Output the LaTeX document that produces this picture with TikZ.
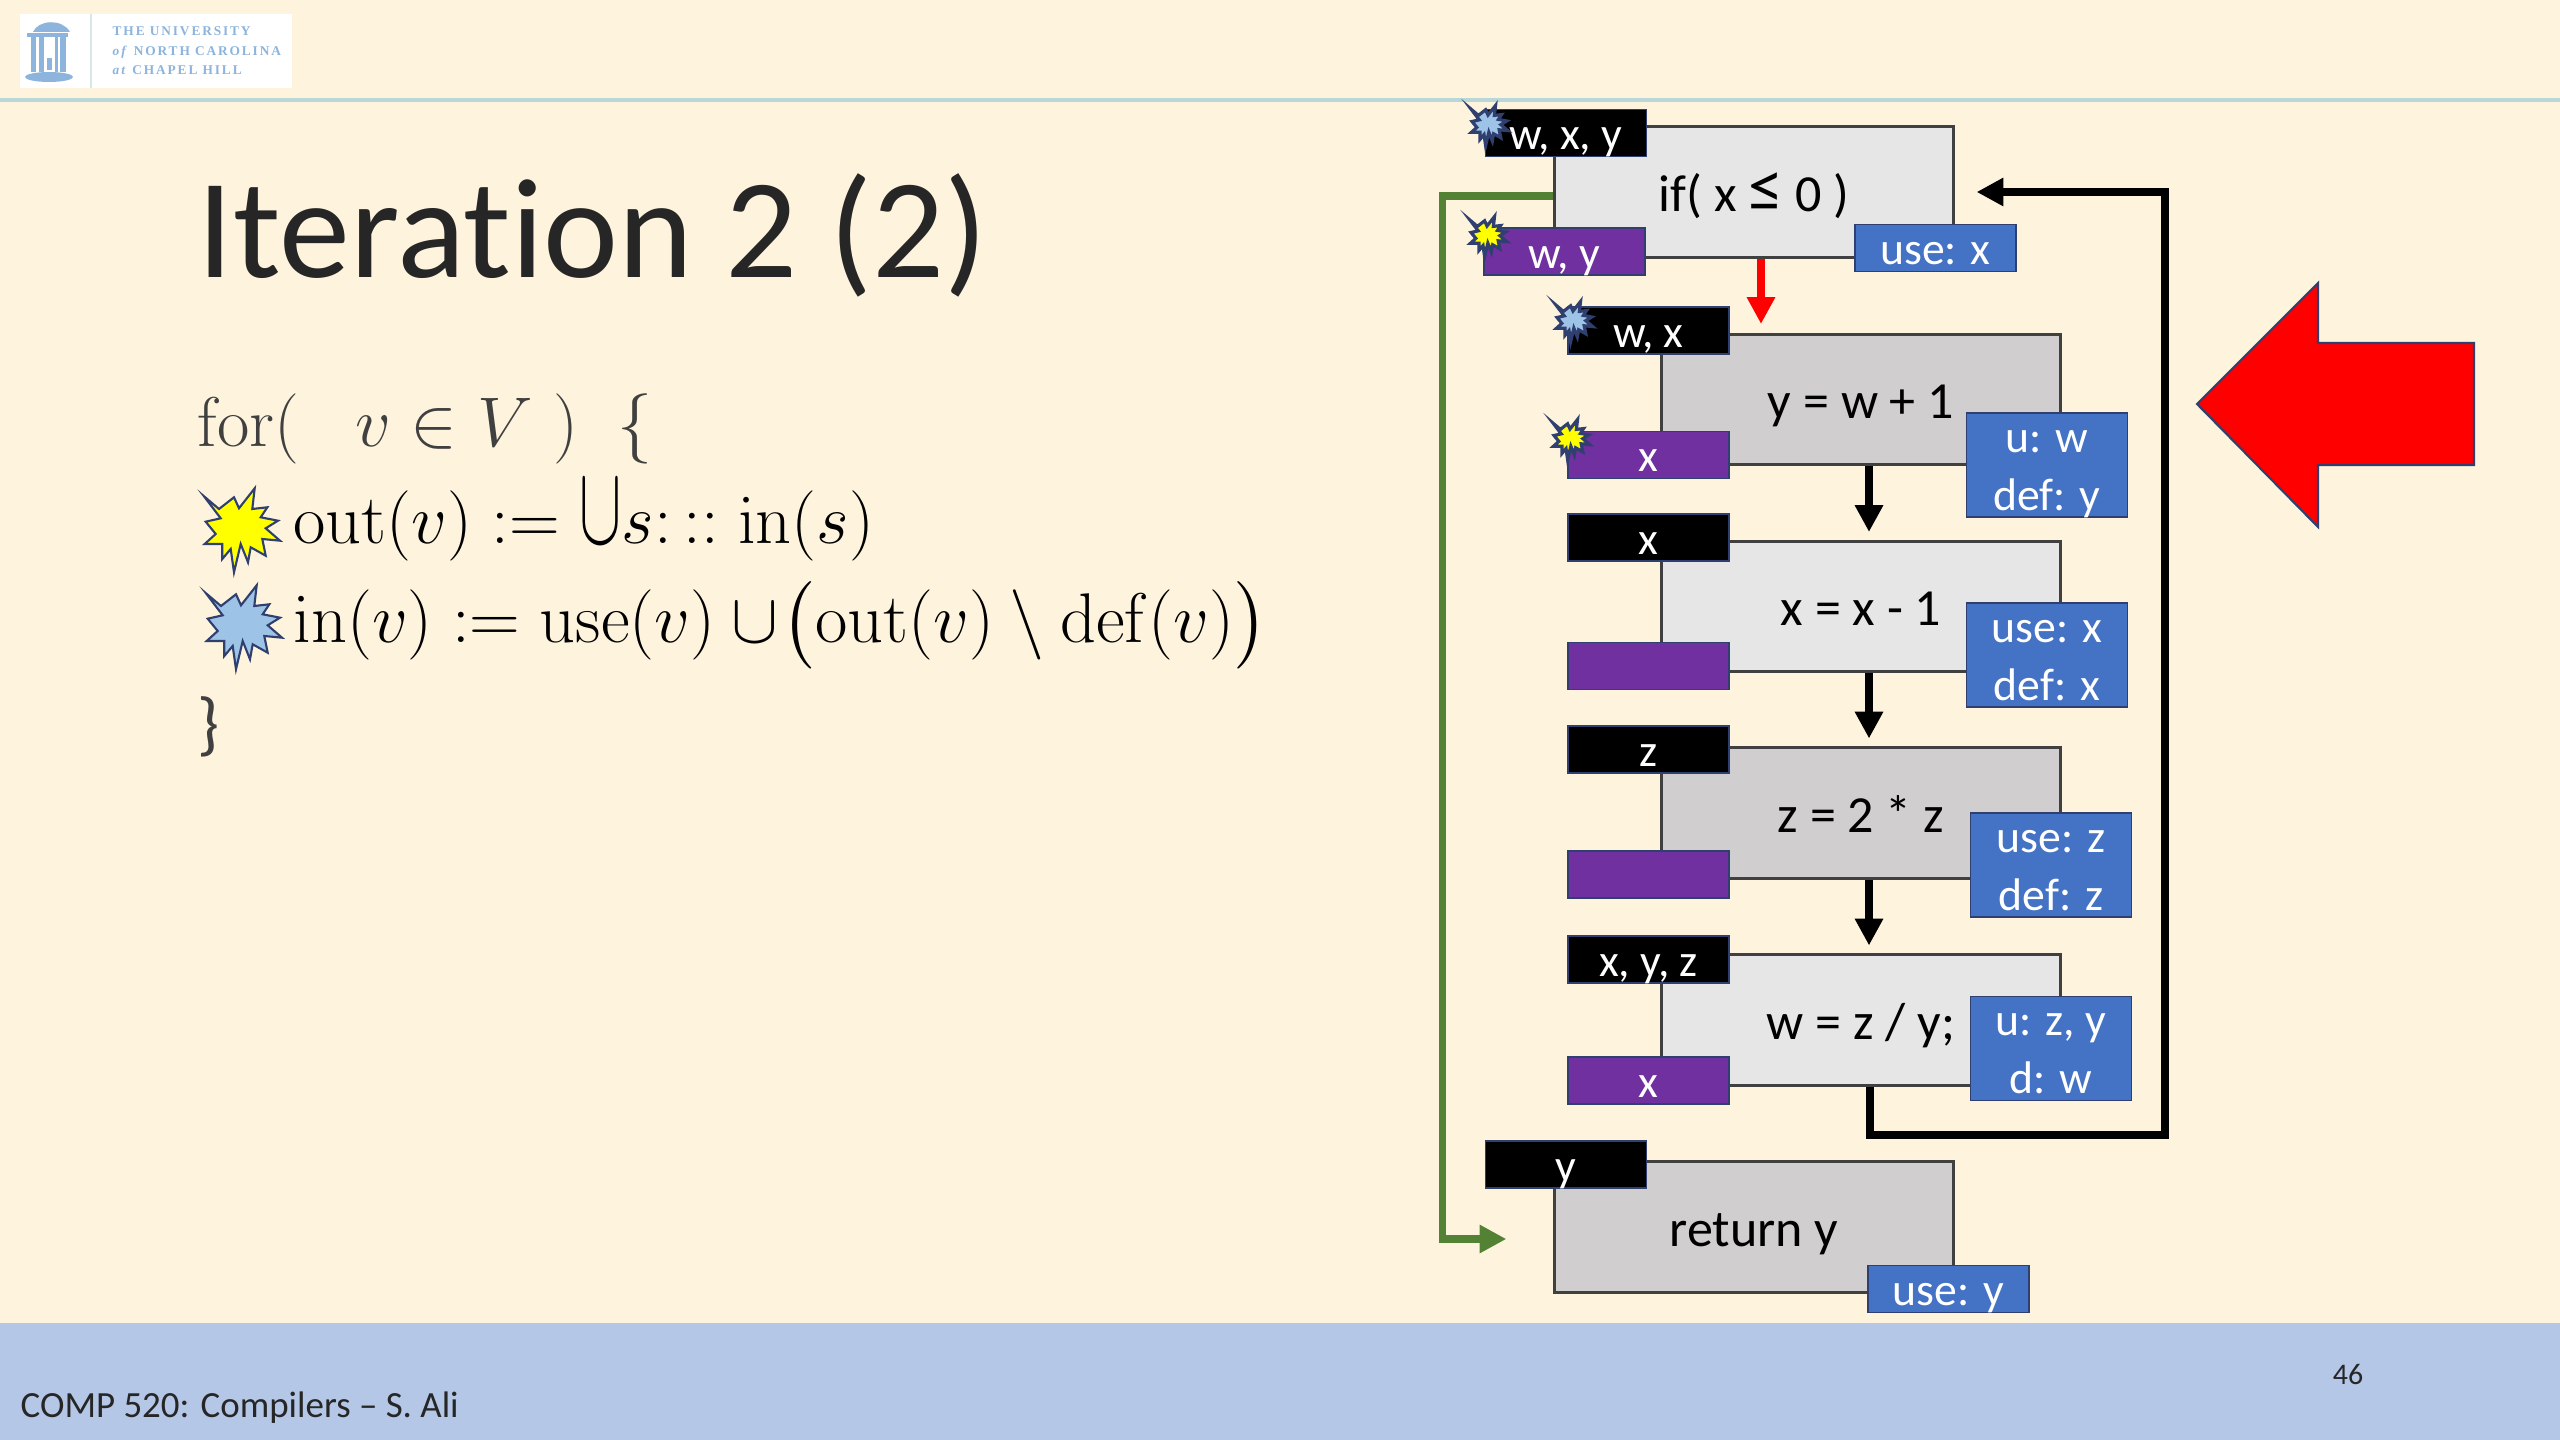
\documentclass[tikz,border=0pt]{standalone}
\usepackage{fix-cm}
\usepackage{exscale}
\usepackage[no-math]{fontspec}
\usetikzlibrary{arrows.meta}
\setmainfont[Ligatures=NoCommon]{Carlito}
\newfontfamily\logofont[LetterSpace=14]{Liberation Serif}
\definecolor{slidebg}{HTML}{FEF3DC}
\definecolor{footbg}{HTML}{B4C7E7}
\definecolor{rulecol}{HTML}{B9D6D8}
\definecolor{blockedge}{HTML}{404040}
\definecolor{blocklight}{HTML}{E7E6E6}
\definecolor{blockdark}{HTML}{D0CECE}
\definecolor{outpurple}{HTML}{7030A0}
\definecolor{useblue}{HTML}{4472C4}
\definecolor{edgenavy}{HTML}{2F3F6F}
\definecolor{loopgreen}{HTML}{548235}
\definecolor{stargold}{HTML}{FFFF00}
\definecolor{starblue}{HTML}{9DC3E6}
\definecolor{logoblue}{HTML}{8DB4DC}
\tikzset{
  block/.style={draw=blockedge, line width=0.85pt, inner sep=0pt,
    minimum width=3.98cm, minimum height=1.3cm,
    font=\fontsize{14.8pt}{17pt}\selectfont, text height=11pt, text depth=0pt},
  tag/.style={draw=edgenavy, line width=0.4pt, inner sep=0pt, text=white,
    minimum width=1.61cm, minimum height=0.47cm,
    font=\fontsize{13pt}{16pt}\selectfont, text height=9.4pt, text depth=0pt},
  intag/.style={tag, fill=black},
  outtag/.style={tag, fill=outpurple},
  usetag/.style={tag, fill=useblue},
  usedef/.style={draw=edgenavy, line width=0.4pt, fill=useblue, inner sep=0pt, text=white,
    minimum width=1.61cm, minimum height=1.04cm, align=center,
    font=\fontsize{13pt}{16.4pt}\selectfont, text height=25.6pt, text depth=0pt},
  mathline/.style={anchor=base west, inner sep=0pt, font=\fontsize{20pt}{24pt}\selectfont},
  flow/.style={line width=2.2pt, -{Triangle[width=7.6pt, length=7.6pt]}},
  pics/burst/.style={code={
    \draw[draw=edgenavy, fill=#1, line join=miter]
      (-35,-32.7) -- (-20,-20) -- (-5,-31.7) -- (0,-20.7) -- (15.7,-40.7) -- (13.3,-20)
      -- (28.3,-21.7) -- (21.7,-11.7) -- (39,-8.3) -- (26.7,-0.7) -- (41,11.7) -- (23.3,10)
      -- (26.7,26.7) -- (11.7,18.3) -- (9,33.3) -- (1.7,15) -- (-5,43.3) -- (-8.3,20)
      -- (-16.7,30) -- (-16.7,15) -- (-34.3,15) -- (-23.3,5) -- (-33.3,-7.3) -- (-18.3,-10.7)
      -- cycle;
  }},
}
\begin{document}
\begin{tikzpicture}[x=0.01cm, y=-0.01cm]
  \useasboundingbox (0,0) rectangle (2560,1440);
  \fill[slidebg] (0,0) rectangle (2560,1440);
  \fill[footbg] (0,1323) rectangle (2560,1440);
  \draw[rulecol, line width=1.2pt] (0,100) -- (2560,100);

  % logo
  \fill[white] (20,14) rectangle (292,88);
  \draw[rulecol!60, line width=0.4pt] (91,14) -- (91,88);
  \fill[logoblue] (33,32) .. controls (38,20) and (62,18) .. (70,32) -- cycle;
  \fill[logoblue] (27,33) rectangle (68,37);
  \fill[logoblue] (31,37) rectangle (36,72);
  \fill[logoblue] (39,37) rectangle (44,72);
  \fill[logoblue] (55,37) rectangle (58,72);
  \fill[logoblue] (60,37) rectangle (66,72);
  \fill[logoblue] (47,58) rectangle (52,70);
  \fill[logoblue] (49,77) ellipse (24 and 5);
  \node[anchor=base west, inner sep=0pt, text=logoblue, font=\logofont\bfseries\fontsize{3.8pt}{4pt}\selectfont] (logoa) at (112,36) {THE UNIVERSITY};
  \node[anchor=base west, inner sep=0pt, text=logoblue, font=\logofont\bfseries\fontsize{3.8pt}{4pt}\selectfont] (logob) at (112,56) {\textit{of} NORTH CAROLINA};
  \node[anchor=base west, inner sep=0pt, text=logoblue, font=\logofont\bfseries\fontsize{3.8pt}{4pt}\selectfont] (logoc) at (112,75) {\textit{at} CHAPEL HILL};

  % left column
  \node[anchor=base west, inner sep=0pt, font=\fontsize{40.4pt}{44pt}\selectfont, text=black!85] (title) at (197,278) {Iteration 2 (2)};
  \node[mathline, text=black!75] (forline) at (197,447) {$\mathrm{for}(\hspace{16pt}v \in V\hspace{6pt})\hspace{11pt}\{$};
  \pic[line width=0.6pt] at (239,529) {burst=stargold};
  \node[mathline] (outline) at (293,544) {$\mathrm{out}(v) \mathrel{:=} \mathbin{\scalebox{0.9}[1.6]{$\cup$}} s\colon :: \mathrm{in}(s)$};
  \pic[line width=0.6pt] at (241,626) {burst=starblue};
  \node[mathline] (inline) at (293,643) {$\mathrm{in}(v) \mathrel{:=} \mathrm{use}(v) \cup\! \bigl(\mathrm{out}(v) \setminus \mathrm{def}(v)\bigr)$};
  \node[mathline, text=black!75] (closeline) at (197,748) {\}};

  % basic blocks
  \node[block, fill=blocklight] (ifblock) at (1754,192) {if( x \scalebox{1.35}{≤} 0 )};
  \node[block, fill=blockdark] (yblock) at (1861,399.5) {y = w + 1};
  \node[block, fill=blocklight] (xblock) at (1861,606.5) {x = x - 1};
  \node[block, fill=blockdark] (zblock) at (1861,813) {z = 2 * z};
  \node[block, fill=blocklight] (wblock) at (1861,1020) {w = z / y;};
  \node[block, fill=blockdark] (retblock) at (1754,1227) {return y};

  % connectors
  \coordinate (backcorner) at (2165,1135);
  \coordinate (greenrail) at (1442,700);
  \draw[flow, red, shorten >=0.09cm] ([xshift=0.07cm]ifblock.south) -- ([xshift=0.07cm]ifblock.south |- yblock.north);
  \draw[flow, shorten >=0.08cm] ([xshift=0.08cm]yblock.south) -- ([xshift=0.08cm]xblock.north);
  \draw[flow, shorten >=0.08cm] ([xshift=0.08cm]xblock.south) -- ([xshift=0.08cm]zblock.north);
  \draw[flow, shorten >=0.08cm] ([xshift=0.08cm]zblock.south) -- ([xshift=0.08cm]wblock.north);
  \draw[flow, shorten >=0.22cm] ([xshift=0.09cm]wblock.south) |- (backcorner) |- (ifblock.east);
  \draw[flow, loopgreen, line width=2pt, shorten >=0.47cm] ([yshift=-0.04cm]ifblock.west) -| (greenrail) |- ([yshift=-0.12cm]retblock.west);

  % in and out sets
  \node[intag] (ifin) at (1566,133) {w, x, y};
  \node[outtag] (ifout) at (1564.5,251.5) {w, y};
  \node[usetag] (ifuse) at (1935.5,248) {use: x};
  \node[intag] (yin) at (1648.5,330.5) {w, x};
  \node[outtag] (yout) at (1648.5,455) {x};
  \node[usedef] (yuse) at (2047,465) {u: w\\def: y};
  \node[intag] (xin) at (1648.5,537.5) {x};
  \node[outtag] (xout) at (1648.5,666) {};
  \node[usedef] (xuse) at (2047,655) {use: x\\def: x};
  \node[intag] (zin) at (1648.5,749.5) {z};
  \node[outtag] (zout) at (1648.5,874.5) {};
  \node[usedef] (zuse) at (2051,865) {use: z\\def: z};
  \node[intag] (win) at (1648.5,959.5) {x, y, z};
  \node[outtag] (wout) at (1648.5,1080.5) {x};
  \node[usedef] (wuse) at (2051,1048.5) {u: z, y\\d: w};
  \node[intag] (retin) at (1566,1164.5) {y};
  \node[usetag] (retuse) at (1948.5,1289) {use: y};

  % small markers
  \pic[scale=0.48, line width=0.9pt] at (1488,125) {burst=starblue};
  \pic[scale=0.48, line width=0.9pt] at (1487,236) {burst=stargold};
  \pic[scale=0.48, line width=0.9pt] at (1573,321) {burst=starblue};
  \pic[scale=0.48, line width=0.9pt] at (1570,439) {burst=stargold};

  % big pointer
  \draw[draw=edgenavy, line width=0.6pt, fill=red] (2197,404) -- (2318,283) -- (2318,343) -- (2474,343)
    -- (2474,465) -- (2318,465) -- (2318,527) -- cycle;

  % footer
  \node[anchor=base west, inner sep=0pt, font=\fontsize{10.5pt}{12pt}\selectfont, text=black!85] (foottext) at (20,1417) {COMP 520: Compilers – S. Ali};
  \node[anchor=base, inner sep=0pt, font=\fontsize{8.5pt}{10pt}\selectfont, text=black!85] (pagenum) at (2348,1384) {46};
\end{tikzpicture}
\end{document}
